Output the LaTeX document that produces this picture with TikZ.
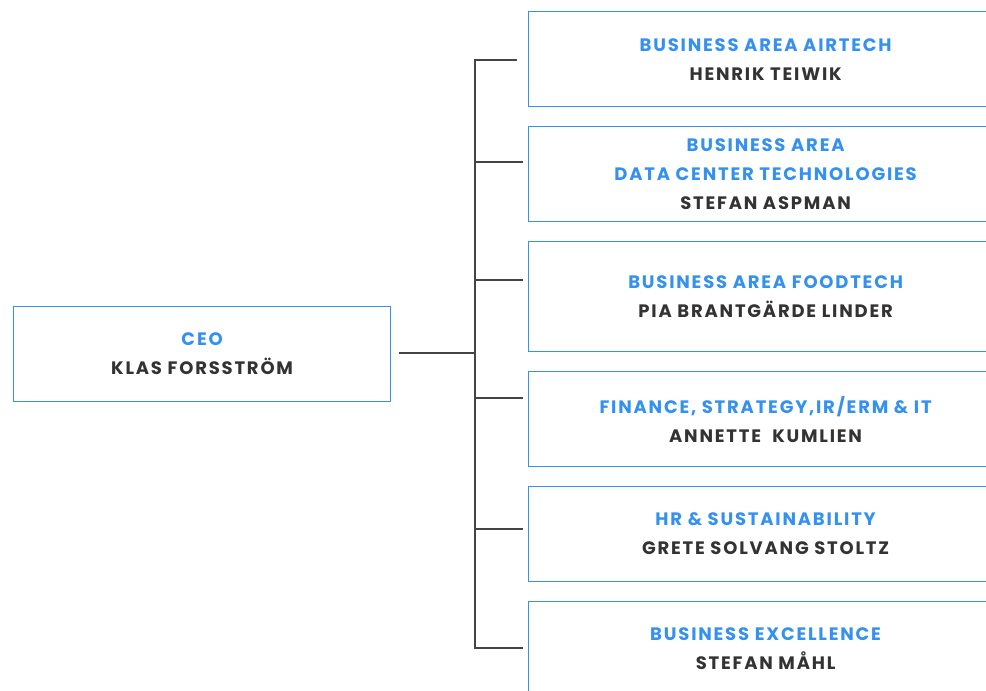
\documentclass[tikz,border=0pt]{standalone}
\usepackage{fontspec}
\setmainfont{Poppins}[LetterSpace=10]
\usepackage{tikz}
\usetikzlibrary{positioning}
\usepackage{xcolor}
\definecolor{orgblue}{RGB}{52, 145, 240}
\definecolor{orgline}{RGB}{68, 68, 68}
\definecolor{orgtext}{RGB}{51, 51, 51}

\begin{document}
\begin{tikzpicture}[x=1pt, y=-1pt,
  font=\fontsize{18}{29}\selectfont\bfseries, text=orgtext,
  unit/.style={rectangle, draw=orgblue, line width=1.2pt, anchor=north west, align=center, inner sep=0pt, minimum width=474pt, minimum height=95pt},
  head/.style={rectangle, draw=orgblue, line width=1.2pt, anchor=north west, align=center, inner sep=0pt, minimum width=377pt, minimum height=95pt},
  link/.style={draw=orgline, line width=1.6pt}]
  \useasboundingbox (0,0) rectangle (986,691);
  \clip (0,0) rectangle (986,691);
  \node[head] (ceo) at (13,306) {\textcolor{orgblue}{CEO}\\KLAS FORSSTRÖM};
  \node[unit] (airtech) at (528,11) {\textcolor{orgblue}{BUSINESS AREA AIRTECH}\\HENRIK TEIWIK};
  \node[unit] (dct) at (528,126) {\textcolor{orgblue}{BUSINESS AREA}\\\textcolor{orgblue}{DATA CENTER TECHNOLOGIES}\\STEFAN ASPMAN};
  \node[unit, minimum height=110pt] (food) at (528,241) {\textcolor{orgblue}{BUSINESS AREA FOODTECH}\\PIA BRANTGÄRDE LINDER};
  \node[unit] (finance) at (528,371) {\textcolor{orgblue}{FINANCE, STRATEGY,IR/ERM \& IT}\\ANNETTE\ \ KUMLIEN};
  \node[unit] (hr) at (528,486) {\textcolor{orgblue}{HR \& SUSTAINABILITY}\\GRETE SOLVANG STOLTZ};
  \node[unit] (excel) at (528,601) {\textcolor{orgblue}{BUSINESS EXCELLENCE}\\STEFAN MÅHL};
  % trunk and stubs
  \coordinate (ceoout) at (399,353);
  \coordinate (trtop) at (475,60);
  \coordinate (trbot) at (475,648);
  \coordinate (s1) at (517,60);
  \coordinate (s2) at (523,162);
  \coordinate (s3) at (523,280);
  \coordinate (s4) at (523,398);
  \coordinate (s5) at (523,529);
  \coordinate (s6) at (523,648);
  \draw[link] (s1) -- (trtop) -- (trbot) -- (s6);
  \draw[link] (ceoout) -- (ceoout -| trtop);
  \foreach \s in {s2,s3,s4,s5}
    \draw[link] (\s -| trtop) -- (\s);
\end{tikzpicture}
\end{document}
